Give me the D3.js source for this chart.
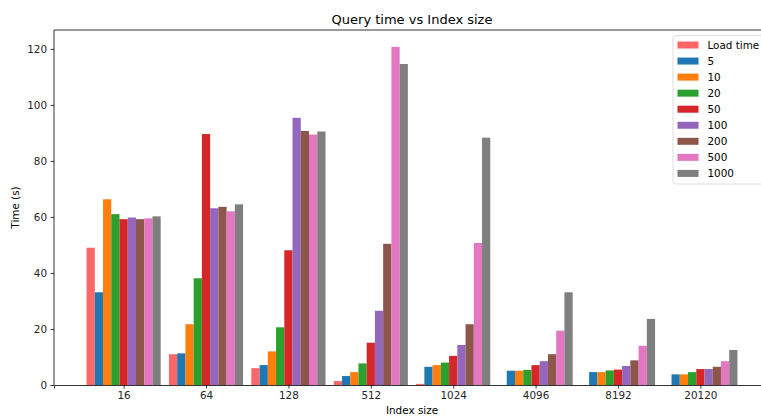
<!DOCTYPE html>
<html>
<head>
<meta charset="utf-8">
<script src="https://cdn.jsdelivr.net/npm/d3@7"></script>
<style>
  html, body { margin: 0; padding: 0; background: #fff; }
  svg { display: block; font-family: "DejaVu Sans", sans-serif; }
</style>
</head>
<body>
<svg id="chart" width="761" height="416"></svg>
<script>
// Index sizes on the x axis
const indexSizes = ["16", "64", "128", "512", "1024", "4096", "8192", "20120"];

// Series names, in legend order
const seriesNames = ["Load time", "5", "10", "20", "50", "100", "200", "500", "1000"];
const seriesColors = ["#ff6666", "#1f77b4", "#ff7f0e", "#2ca02c", "#d62728",
                      "#9467bd", "#8c564b", "#e377c2", "#7f7f7f"];

// Times in seconds, one value per index size
const loadTime = [49.0, 11.0, 6.0, 1.4, 0.4, 0.0, 0.0, 0.0];
const q5       = [33.1, 11.3, 7.1, 3.2, 6.5, 5.1, 4.6, 3.8];
const q10      = [66.3, 21.7, 12.0, 4.6, 7.1, 5.1, 4.6, 3.8];
const q20      = [61.0, 38.1, 20.6, 7.7, 8.0, 5.4, 5.2, 4.6];
const q50      = [59.2, 89.6, 48.1, 15.1, 10.4, 7.1, 5.5, 5.7];
const q100     = [59.8, 63.1, 95.4, 26.5, 14.3, 8.5, 6.8, 5.7];
const q200     = [59.2, 63.6, 90.7, 50.4, 21.7, 11.0, 8.8, 6.5];
const q500     = [59.5, 62.0, 89.4, 120.7, 50.7, 19.4, 14.0, 8.5];
const q1000    = [60.2, 64.5, 90.5, 114.6, 88.3, 33.1, 23.6, 12.5];

const yTicks = [0, 20, 40, 60, 80, 100, 120];

const seriesValues = [loadTime, q5, q10, q20, q50, q100, q200, q500, q1000];

const svg = d3.select("#chart");
const margin = { left: 54, right: 770, top: 30, bottom: 385 };

const barW = 0.1;
const nSeries = seriesNames.length;
const halfSpan = (nSeries / 2) * barW;
const lo = -halfSpan, hi = indexSizes.length - 1 + halfSpan;
const pad = (hi - lo) * 0.05;

const x = d3.scaleLinear().domain([lo - pad, hi + pad]).range([margin.left, margin.right]);
const yMax = d3.max(seriesValues.flat()) * 1.05;
const y = d3.scaleLinear().domain([0, yMax]).range([margin.bottom, margin.top]);

// Bars
seriesValues.forEach((vals, j) => {
  const offset = (j - (nSeries - 1) / 2) * barW;
  svg.append("g")
    .selectAll("rect")
    .data(vals)
    .join("rect")
    .attr("x", (d, i) => x(i + offset - barW / 2))
    .attr("width", x(barW) - x(0))
    .attr("y", d => y(d))
    .attr("height", d => y(0) - y(d))
    .attr("fill", seriesColors[j]);
});

// Axes
const xAxis = d3.axisBottom(x)
  .tickValues(d3.range(indexSizes.length))
  .tickFormat(i => indexSizes[i])
  .tickSize(3.5).tickPadding(3.5);
const gx = svg.append("g").attr("transform", `translate(0,${margin.bottom})`).call(xAxis);
gx.select(".domain").attr("stroke", "#000").attr("stroke-width", 0.8);
gx.selectAll(".tick line").attr("stroke", "#000").attr("stroke-width", 0.8);
gx.selectAll(".tick text").attr("font-size", 10.4).attr("fill", "#262626")
  .attr("font-family", "DejaVu Sans");

const yAxis = d3.axisLeft(y).tickValues(yTicks).tickSize(3.5).tickPadding(3.5);
const gy = svg.append("g").attr("transform", `translate(${margin.left},0)`).call(yAxis);
gy.select(".domain").attr("stroke", "#000").attr("stroke-width", 0.8)
  .attr("d", `M0,${margin.bottom}V${margin.top}`);
gy.selectAll(".tick line").attr("stroke", "#000").attr("stroke-width", 0.8);
gy.selectAll(".tick text").attr("font-size", 10.4).attr("fill", "#262626")
  .attr("font-family", "DejaVu Sans");

// Top spine
svg.append("line")
  .attr("x1", margin.left).attr("x2", margin.right)
  .attr("y1", margin.top).attr("y2", margin.top)
  .attr("stroke", "#000").attr("stroke-width", 0.8);

// Title and axis labels
const cx = (margin.left + margin.right) / 2;
svg.append("text").attr("x", cx).attr("y", 24)
  .attr("text-anchor", "middle").attr("font-size", 13).attr("fill", "#000")
  .text("Query time vs Index size");
svg.append("text").attr("x", cx).attr("y", 414)
  .attr("text-anchor", "middle").attr("font-size", 10.4).attr("fill", "#000")
  .text("Index size");
svg.append("text")
  .attr("transform", `translate(19,${(margin.top + margin.bottom) / 2}) rotate(-90)`)
  .attr("text-anchor", "middle").attr("font-size", 10.4).attr("fill", "#000")
  .text("Time (s)");

// Legend
const legend = svg.append("g").attr("transform", "translate(673,35.5)");
legend.append("rect")
  .attr("width", 96).attr("height", 148.5).attr("rx", 2.5)
  .attr("fill", "#fff").attr("fill-opacity", 0.8)
  .attr("stroke", "#d6d6d6").attr("stroke-width", 0.8);
const items = legend.selectAll("g.item")
  .data(seriesNames)
  .join("g").attr("class", "item")
  .attr("transform", (d, i) => `translate(0,${9.5 + i * 16.05})`);
items.append("rect")
  .attr("x", 4.5).attr("y", -3.5).attr("width", 21).attr("height", 7)
  .attr("fill", (d, i) => seriesColors[i]);
items.append("text")
  .attr("x", 34.5).attr("y", 0).attr("dy", "0.36em")
  .attr("font-size", 10.4).attr("fill", "#000")
  .text(d => d);
</script>
</body>
</html>
